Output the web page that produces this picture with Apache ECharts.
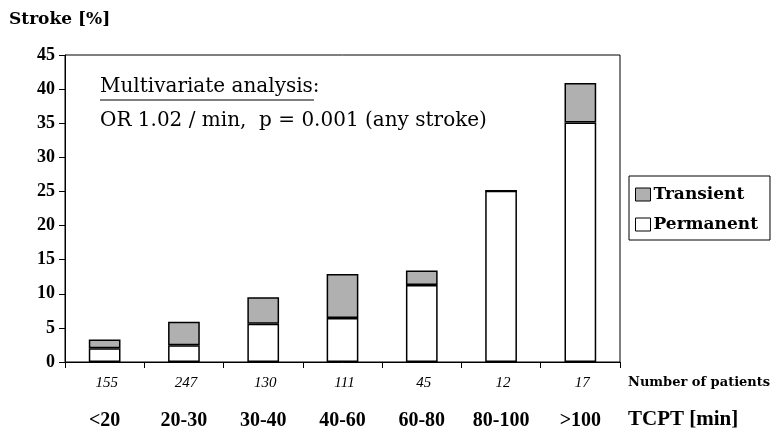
<!DOCTYPE html>
<html>
<head>
<meta charset="utf-8">
<script src="https://cdn.jsdelivr.net/npm/echarts@6/dist/echarts.min.js"></script>
<style>
  html, body { margin: 0; padding: 0; background: #fff; }
  #main { width: 772px; height: 439px; }
</style>
</head>
<body>
<div id="main"></div>
<script>
// TCPT ranges and patient counts
const categories = ['<20', '20-30', '30-40', '40-60', '60-80', '80-100', '>100'];
const patients = [155, 247, 130, 111, 45, 12, 17];
// stroke rates [%]
const permanent = [2.0, 2.45, 5.6, 6.45, 11.3, 25.1, 35.1];
const transient = [1.3, 3.45, 3.9, 6.45, 2.1, 0, 5.8];
const yTicks = { min: 0, max: 45, step: 5 };

const serif = '"Liberation Serif", "Times New Roman", serif';
const wide = '"DejaVu Serif", serif';

const chart = echarts.init(document.getElementById('main'), null, { renderer: 'canvas' });

const option = {
  animation: false,
  backgroundColor: '#fff',
  grid: {
    left: 65, right: 152, top: 55, bottom: 77,
    show: true, borderColor: '#000', borderWidth: 1, backgroundColor: 'transparent'
  },
  legend: {
    data: ['Transient', 'Permanent'],
    orient: 'vertical',
    left: 629, top: 176,
    padding: [10, 12, 7, 6],
    itemGap: 13,
    itemWidth: 15, itemHeight: 13,
    icon: 'rect',
    borderColor: '#000', borderWidth: 1,
    itemStyle: { borderColor: '#000', borderWidth: 1 },
    textStyle: { fontFamily: wide, fontWeight: 'bold', fontSize: 17, color: '#000', padding: [0, 0, 0, -2] }
  },
  xAxis: {
    type: 'category',
    data: categories,
    axisLine: { lineStyle: { color: '#000', width: 1 } },
    axisTick: { show: true, length: 6, lineStyle: { color: '#000' } },
    axisLabel: {
      interval: 0,
      margin: 10,
      formatter: function (v, i) {
        return '{n|' + patients[i] + '}\n{c|' + v + '}';
      },
      rich: {
        n: { fontFamily: serif, fontStyle: 'italic', fontSize: 15, color: '#000', height: 22, padding: [0, 0, 0, 4] },
        c: { fontFamily: serif, fontWeight: 'bold', fontSize: 20, color: '#000', height: 54 }
      }
    }
  },
  yAxis: {
    type: 'value',
    min: yTicks.min, max: yTicks.max, interval: yTicks.step,
    axisLine: { show: true, lineStyle: { color: '#000', width: 1 } },
    axisTick: { show: true, length: 6, lineStyle: { color: '#000' } },
    splitLine: { show: false },
    axisLabel: { fontFamily: serif, fontWeight: 'bold', fontSize: 18, color: '#000', margin: 10 }
  },
  series: [
    {
      name: 'Permanent', type: 'bar', stack: 'stroke', data: permanent,
      barWidth: '40%',
      itemStyle: { color: '#fff', borderColor: '#000', borderWidth: 1.5 }
    },
    {
      name: 'Transient', type: 'bar', stack: 'stroke', data: transient,
      barWidth: '40%',
      itemStyle: { color: '#b0b0b0', borderColor: '#000', borderWidth: 1.5 }
    }
  ],
  graphic: [
    {
      type: 'text', left: 9, top: 11,
      style: { text: 'Stroke [%]', fontFamily: wide, fontWeight: 'bold', fontSize: 17, fill: '#000' }
    },
    {
      type: 'text', left: 100, top: 77,
      style: { text: 'Multivariate analysis:', fontFamily: wide, fontSize: 20, fill: '#000' }
    },
    {
      type: 'line', shape: { x1: 100, y1: 100, x2: 314, y2: 100 },
      style: { stroke: '#000', lineWidth: 1 }
    },
    {
      type: 'text', left: 100, top: 111,
      style: { text: 'OR 1.02 / min,  p = 0.001 (any stroke)', fontFamily: wide, fontSize: 20, fill: '#000' }
    },
    {
      type: 'text', left: 628, top: 376,
      style: { text: 'Number of patients', fontFamily: wide, fontWeight: 'bold', fontSize: 13, fill: '#000' }
    },
    {
      type: 'text', left: 628, top: 409,
      style: { text: 'TCPT [min]', fontFamily: serif, fontWeight: 'bold', fontSize: 21, fill: '#000' }
    }
  ]
};

chart.setOption(option);
</script>
</body>
</html>
